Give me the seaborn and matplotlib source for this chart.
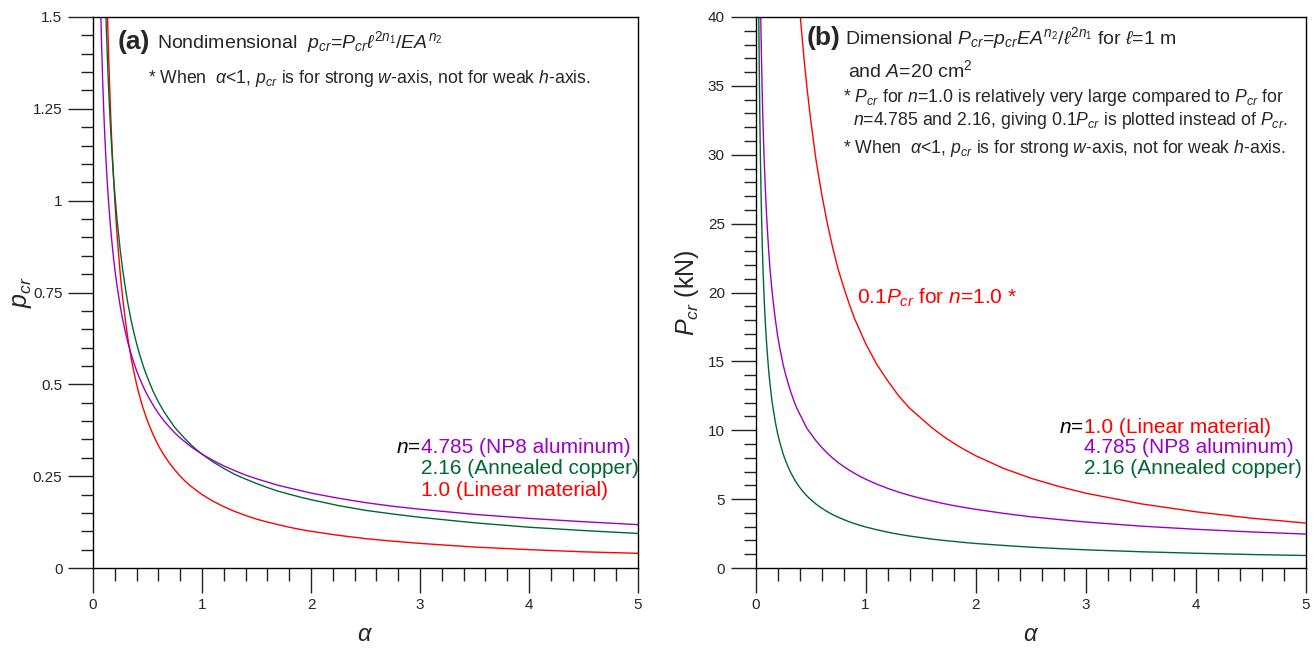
import numpy as np
import pandas as pd
import matplotlib
matplotlib.use("Agg")
import matplotlib.pyplot as plt
from matplotlib.ticker import MultipleLocator, FixedLocator
import seaborn as sns

# ---------------- data ----------------
alpha = [0.015, 0.02, 0.025, 0.03, 0.035, 0.04, 0.045, 0.05, 0.055, 0.06,
         0.065, 0.07, 0.075, 0.08, 0.09, 0.1, 0.11, 0.12, 0.13, 0.14,
         0.15, 0.16, 0.17, 0.18, 0.19, 0.2, 0.22, 0.25, 0.27, 0.3,
         0.32, 0.35, 0.37, 0.4, 0.42, 0.45, 0.47, 0.5, 0.55, 0.6,
         0.65, 0.7, 0.75, 0.8, 0.85, 0.9, 0.95, 1.0, 1.1, 1.2,
         1.3, 1.4, 1.5, 1.6, 1.7, 1.8, 1.9, 2.0, 2.25, 2.5,
         2.75, 3.0, 3.5, 4.0, 4.5, 5.0]

# (a) nondimensional p_cr
pcr_n4785 = [3.853, 3.243, 2.835, 2.542, 2.317, 2.139, 1.993, 1.871, 1.767, 1.677,
             1.598, 1.529, 1.467, 1.411, 1.315, 1.234, 1.166, 1.106, 1.054, 1.008,
             0.968, 0.931, 0.898, 0.867, 0.839, 0.814, 0.769, 0.712, 0.680, 0.638,
             0.614, 0.582, 0.563, 0.537, 0.522, 0.501, 0.488, 0.470, 0.444, 0.421,
             0.401, 0.384, 0.368, 0.354, 0.342, 0.330, 0.320, 0.310, 0.293, 0.278,
             0.265, 0.253, 0.243, 0.234, 0.225, 0.218, 0.211, 0.204, 0.190, 0.178,
             0.168, 0.160, 0.146, 0.135, 0.126, 0.118]
pcr_n216 = [6.935, 5.605, 4.752, 4.151, 3.705, 3.357, 3.076, 2.845, 2.651, 2.486,
            2.343, 2.218, 2.108, 2.009, 1.842, 1.703, 1.588, 1.489, 1.403, 1.328,
            1.262, 1.203, 1.150, 1.103, 1.059, 1.020, 0.950, 0.865, 0.817, 0.756,
            0.720, 0.674, 0.647, 0.611, 0.589, 0.560, 0.542, 0.518, 0.482, 0.452,
            0.426, 0.404, 0.383, 0.366, 0.350, 0.335, 0.322, 0.310, 0.289, 0.271,
            0.255, 0.242, 0.230, 0.219, 0.209, 0.201, 0.193, 0.186, 0.170, 0.157,
            0.147, 0.138, 0.123, 0.111, 0.102, 0.094]
pcr_n10 = [13.33, 10.0, 8.0, 6.667, 5.714, 5.0, 4.444, 4.0, 3.636, 3.333,
           3.077, 2.857, 2.667, 2.5, 2.222, 2.0, 1.818, 1.667, 1.538, 1.429,
           1.333, 1.25, 1.176, 1.111, 1.053, 1.0, 0.909, 0.8, 0.741, 0.667,
           0.625, 0.571, 0.541, 0.5, 0.476, 0.444, 0.426, 0.4, 0.364, 0.333,
           0.308, 0.286, 0.267, 0.25, 0.235, 0.222, 0.211, 0.2, 0.182, 0.167,
           0.154, 0.143, 0.133, 0.125, 0.118, 0.111, 0.105, 0.1, 0.089, 0.08,
           0.073, 0.067, 0.057, 0.05, 0.044, 0.04]

# (b) dimensional P_cr (kN); the n=1.0 curve is 0.1*P_cr
Pcr_n10_tenth = [1087, 815, 652, 543, 466, 408, 362, 326, 296, 272,
                 251, 233, 217, 204, 181, 163, 148, 136, 125, 116,
                 109, 102, 95.9, 90.6, 85.8, 81.5, 74.1, 65.2, 60.4, 54.3,
                 50.9, 46.6, 44.1, 40.75, 38.8, 36.2, 34.7, 32.6, 29.6, 27.2,
                 25.1, 23.3, 21.7, 20.4, 19.2, 18.1, 17.2, 16.3, 14.8, 13.6,
                 12.5, 11.6, 10.9, 10.2, 9.59, 9.06, 8.58, 8.15, 7.24, 6.52,
                 5.93, 5.43, 4.66, 4.08, 3.62, 3.26]
Pcr_n4785 = [80.2, 67.5, 59.0, 52.9, 48.2, 44.5, 41.5, 38.9, 36.8, 34.9,
             33.2, 31.8, 30.5, 29.4, 27.4, 25.7, 24.3, 23.0, 21.9, 21.0,
             20.1, 19.4, 18.7, 18.05, 17.5, 16.9, 16.0, 14.8, 14.15, 13.3,
             12.8, 12.1, 11.7, 11.2, 10.9, 10.4, 10.1, 9.78, 9.23, 8.77,
             8.35, 7.99, 7.66, 7.37, 7.11, 6.87, 6.65, 6.45, 6.09, 5.78,
             5.51, 5.27, 5.06, 4.87, 4.69, 4.53, 4.39, 4.26, 3.97, 3.72,
             3.52, 3.34, 3.04, 2.81, 2.62, 2.46]
Pcr_n216 = [66.7, 53.9, 45.7, 39.9, 35.6, 32.3, 29.6, 27.4, 25.5, 23.9,
            22.5, 21.3, 20.3, 19.3, 17.7, 16.4, 15.3, 14.3, 13.5, 12.8,
            12.1, 11.6, 11.1, 10.6, 10.2, 9.80, 9.14, 8.31, 7.85, 7.27,
            6.93, 6.48, 6.22, 5.87, 5.66, 5.38, 5.21, 4.98, 4.64, 4.35,
            4.10, 3.88, 3.69, 3.52, 3.36, 3.22, 3.10, 2.98, 2.78, 2.60,
            2.45, 2.32, 2.21, 2.10, 2.01, 1.93, 1.85, 1.78, 1.64, 1.51,
            1.41, 1.32, 1.18, 1.07, 0.979, 0.906]

ytick_a = [0, 0.25, 0.5, 0.75, 1.0, 1.25, 1.5]
ytick_a_labels = ["0", "0.25", "0.5", "0.75", "1", "1.25", "1.5"]
xtick = [0, 1, 2, 3, 4, 5]

RED = "#FF0000"
PURPLE = "#9900CC"
GREEN = "#006633"

# ---------------- style ----------------
sns.set_theme(style="ticks")
plt.rcParams["font.family"] = ["Liberation Sans", "DejaVu Sans"]
plt.rcParams["mathtext.fontset"] = "custom"
plt.rcParams["mathtext.rm"] = "Liberation Sans"
plt.rcParams["mathtext.it"] = "Liberation Sans:italic"
plt.rcParams["mathtext.bf"] = "Liberation Sans:bold"
plt.rcParams["axes.edgecolor"] = "black"
plt.rcParams["axes.linewidth"] = 1.0

fig = plt.figure(figsize=(13.16, 6.48), dpi=100)
W, H = 1316, 648
ax1 = fig.add_axes([93 / W, 1 - 568 / H, 545 / W, 551 / H])
ax2 = fig.add_axes([755.5 / W, 1 - 568 / H, 550.5 / W, 551 / H])

df_a = pd.DataFrame({"alpha": alpha, "n4785": pcr_n4785, "n216": pcr_n216, "n10": pcr_n10})
df_b = pd.DataFrame({"alpha": alpha, "n4785": Pcr_n4785, "n216": Pcr_n216, "n10": Pcr_n10_tenth})

for ax, df in ((ax1, df_a), (ax2, df_b)):
    sns.lineplot(data=df, x="alpha", y="n10", ax=ax, color=RED, lw=1.0)
    sns.lineplot(data=df, x="alpha", y="n216", ax=ax, color=GREEN, lw=1.0)
    sns.lineplot(data=df, x="alpha", y="n4785", ax=ax, color=PURPLE, lw=1.0)

def style_axis(ax):
    ax.set_xlim(0, 5)
    ax.xaxis.set_major_locator(FixedLocator(xtick))
    ax.xaxis.set_minor_locator(MultipleLocator(0.2))
    ax.tick_params(which="major", direction="out", length=18, width=1.0, color="#222222",
                   labelsize=11, top=False, right=False)
    ax.tick_params(which="minor", direction="out", length=9, width=1.0, color="#222222",
                   top=False, right=False)
    ax.tick_params(axis="x", which="major", pad=3.5)
    ax.tick_params(axis="y", which="major", pad=4)
    for s in ax.spines.values():
        s.set_visible(True)
        s.set_color("black")
        s.set_linewidth(1.0)
    ax.set_xlabel(r"$\alpha$", fontsize=17, labelpad=9)

# panel (a)
style_axis(ax1)
ax1.set_ylim(0, 1.5)
ax1.yaxis.set_major_locator(FixedLocator(ytick_a))
ax1.set_yticklabels(ytick_a_labels)
ax1.yaxis.set_minor_locator(MultipleLocator(0.05))
ax1.set_ylabel(r"$p_{cr}$", fontsize=18, labelpad=-1)

ax1.text(0.046, 0.955, "(a)", transform=ax1.transAxes, fontsize=19, fontweight="bold",
         va="center", ha="left")
ax1.text(0.118, 0.955, r"Nondimensional  $p_{cr}$=$P_{cr}\ell^{2n_1}$/$EA^{n_2}$",
         transform=ax1.transAxes, fontsize=14, va="center", ha="left")
ax1.text(0.101, 0.888, r"* When  $\alpha$<1, $p_{cr}$ is for strong $w$-axis, not for weak $h$-axis.",
         transform=ax1.transAxes, fontsize=12.7, va="center", ha="left")

xa = 0.601
ax1.text(xa, 0.2196, r"$n$=", transform=ax1.transAxes, fontsize=15, va="center", ha="right", color="black")
ax1.text(xa, 0.2196, "4.785 (NP8 aluminum)", transform=ax1.transAxes, fontsize=15, va="center", ha="left", color=PURPLE)
ax1.text(xa, 0.180, "2.16 (Annealed copper)", transform=ax1.transAxes, fontsize=15, va="center", ha="left", color=GREEN)
ax1.text(xa, 0.140, "1.0 (Linear material)", transform=ax1.transAxes, fontsize=15, va="center", ha="left", color=RED)

# panel (b)
style_axis(ax2)
ax2.set_ylim(0, 40)
ax2.yaxis.set_major_locator(MultipleLocator(5))
ax2.yaxis.set_minor_locator(MultipleLocator(1))
ax2.set_ylabel(r"$P_{cr}$ (kN)", fontsize=18, labelpad=5)

ax2.text(0.0935, 0.962, "(b)", transform=ax2.transAxes, fontsize=19, fontweight="bold",
         va="center", ha="left")
ax2.text(0.163, 0.962, r"Dimensional $P_{cr}$=$p_{cr}EA^{n_2}$/$\ell^{2n_1}$ for $\ell$=1 m",
         transform=ax2.transAxes, fontsize=14, va="center", ha="left")
ax2.text(0.168, 0.904, r"and $A$=20 cm$^2$",
         transform=ax2.transAxes, fontsize=14, va="center", ha="left")
ax2.text(0.159, 0.853, r"* $P_{cr}$ for $n$=1.0 is relatively very large compared to $P_{cr}$ for",
         transform=ax2.transAxes, fontsize=12.7, va="center", ha="left")
ax2.text(0.177, 0.813, r"$n$=4.785 and 2.16, giving 0.1$P_{cr}$ is plotted instead of $P_{cr}$.",
         transform=ax2.transAxes, fontsize=12.7, va="center", ha="left")
ax2.text(0.159, 0.762, r"* When  $\alpha$<1, $p_{cr}$ is for strong $w$-axis, not for weak $h$-axis.",
         transform=ax2.transAxes, fontsize=12.7, va="center", ha="left")
ax2.text(0.184, 0.49, r"0.1$P_{cr}$ for $n$=1.0 *", transform=ax2.transAxes, fontsize=15,
         va="center", ha="left", color=RED)

xb = 0.597
ax2.text(xb, 0.2541, r"$n$=", transform=ax2.transAxes, fontsize=15, va="center", ha="right", color="black")
ax2.text(xb, 0.2541, "1.0 (Linear material)", transform=ax2.transAxes, fontsize=15, va="center", ha="left", color=RED)
ax2.text(xb, 0.2196, "4.785 (NP8 aluminum)", transform=ax2.transAxes, fontsize=15, va="center", ha="left", color=PURPLE)
ax2.text(xb, 0.181, "2.16 (Annealed copper)", transform=ax2.transAxes, fontsize=15, va="center", ha="left", color=GREEN)

for ax in (ax1, ax2):
    ax.set_facecolor("white")
    leg = ax.get_legend()
    if leg is not None:
        leg.remove()

fig.savefig("out.png", dpi=100, facecolor="white")
